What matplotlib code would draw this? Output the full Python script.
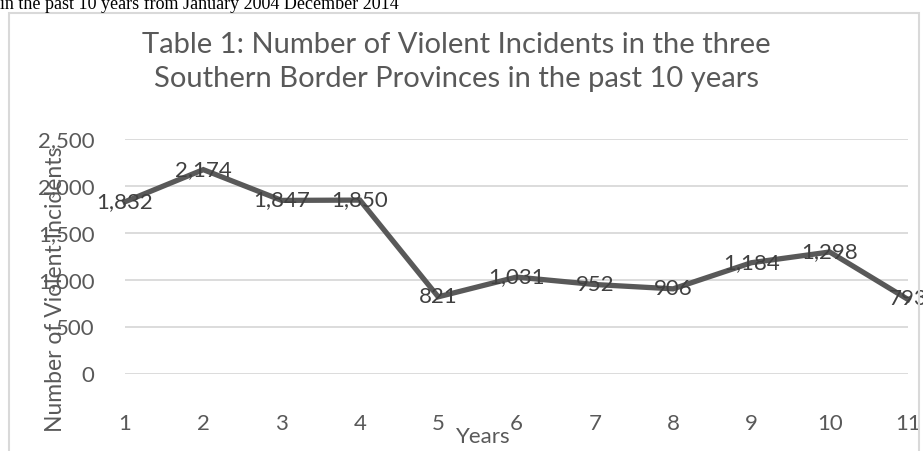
import matplotlib
matplotlib.use("Agg")
import matplotlib.pyplot as plt
from matplotlib.patches import Rectangle
from matplotlib.ticker import FuncFormatter

# data
years = [1, 2, 3, 4, 5, 6, 7, 8, 9, 10, 11]
incidents = [1832, 2174, 1847, 1850, 821, 1031, 952, 906, 1184, 1298, 793]
y_ticks = [0, 500, 1000, 1500, 2000, 2500]

title = "Table 1: Number of Violent Incidents in the three\nSouthern Border Provinces in the past 10 years"
caption = "in the past 10 years from January 2004 December 2014"

plt.rcParams['font.family'] = ['Lato', 'DejaVu Sans']

W, H = 923, 451
fig = plt.figure(figsize=(W / 100, H / 100), dpi=100)

# chart frame (light grey border, runs off the bottom of the picture)
fig.patches.append(Rectangle((9 / W, -0.1), (919 - 9) / W, (H - 13) / H + 0.1,
                             transform=fig.transFigure, fill=False,
                             edgecolor='#d9d9d9', linewidth=1.5))

# clipped text line from the document above the chart
fig.text(0.0, (H - 9) / H, caption, family='Liberation Serif', fontsize=13,
         color='black', ha='left', va='baseline')

ax = fig.add_axes([125 / W, (H - 374) / H, 783 / W, 235 / H])
ax.set_xlim(1, 11)
ax.set_ylim(0, 2500)
ax.set_yticks(y_ticks)
ax.set_xticks(years)
ax.yaxis.set_major_formatter(FuncFormatter(lambda v, p: f"{int(v):,}"))
ax.grid(axis='y', color='#d9d9d9', linewidth=1.3)
ax.set_axisbelow(True)
for s in ax.spines.values():
    s.set_visible(False)
ax.tick_params(length=0, labelsize=16, labelcolor='#595959')
ax.tick_params(axis='y', pad=22)
ax.tick_params(axis='x', pad=29)

ax.plot(years, incidents, color='#595959', linewidth=3.8, solid_joinstyle='miter',
        clip_on=False, zorder=3)
for x, v in zip(years, incidents):
    ax.text(x, v, f"{v:,}", ha='center', va='center', fontsize=16,
            color='#404040', clip_on=False, zorder=4)

fig.text(456 / W, (H - 62) / H, title, ha='center', va='center', fontsize=21,
         color='#595959', linespacing=1.35)
fig.text(483 / W, (H - 437) / H, "Years", ha='center', va='center', fontsize=16,
         color='#595959')
fig.text(56 / W, (H - 432) / H, "Number of Violent Incidents", rotation=90,
         ha='center', va='bottom', fontsize=16.5, color='#595959')

fig.savefig("out.png", dpi=100)
